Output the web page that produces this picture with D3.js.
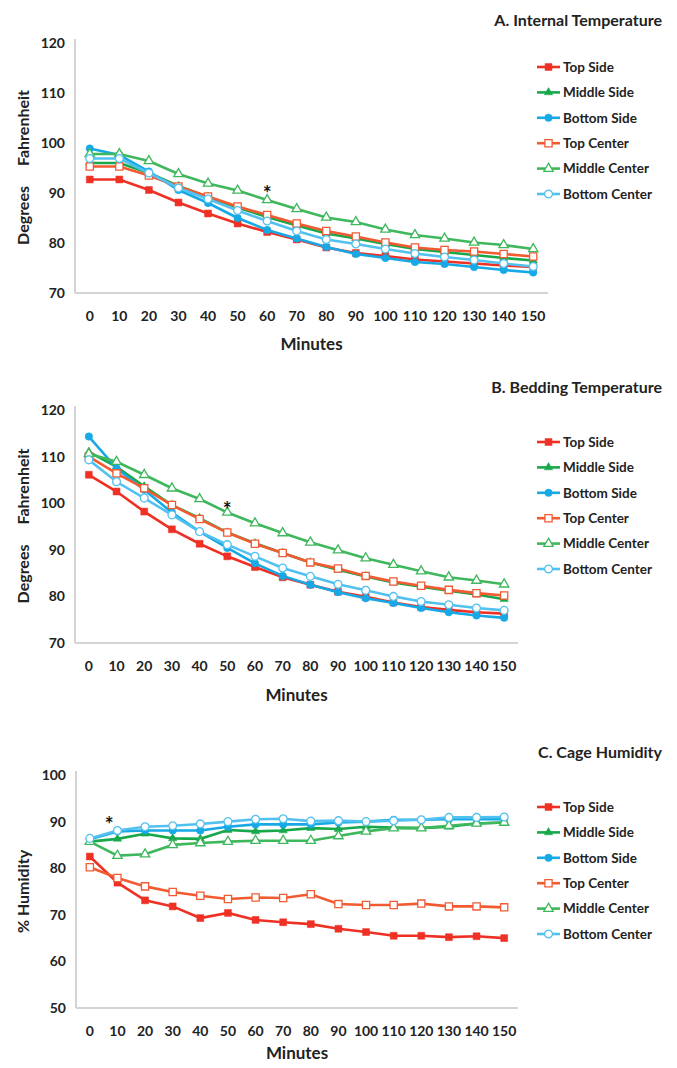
<!DOCTYPE html>
<html>
<head>
<meta charset="utf-8">
<script src="https://cdn.jsdelivr.net/npm/d3@7"></script>
<style>
  body { margin: 0; background: #fff; }
  svg { display: block; font-family: Lato, 'Open Sans', sans-serif; font-weight: bold; }
</style>
</head>
<body>
<main></main>
<script>
// minutes on the x axis
const minutes = [0, 10, 20, 30, 40, 50, 60, 70, 80, 90, 100, 110, 120, 130, 140, 150];
const seriesNames = ['Top Side', 'Middle Side', 'Bottom Side', 'Top Center', 'Middle Center', 'Bottom Center'];

// A. Internal temperature (F)
const internalTopSide = [92.7, 92.7, 90.6, 88.1, 85.9, 83.9, 82.2, 80.7, 79.1, 78.0, 77.4, 76.7, 76.3, 75.9, 75.5, 75.2];
const internalMiddleSide = [96.0, 96.0, 94.0, 91.4, 89.2, 87.1, 85.2, 83.5, 81.9, 80.9, 79.8, 78.8, 78.2, 77.6, 77.0, 76.5];
const internalBottomSide = [98.9, 97.6, 94.3, 90.6, 88.0, 85.0, 82.6, 80.9, 79.2, 77.8, 77.0, 76.2, 75.8, 75.2, 74.6, 74.1];
const internalTopCenter = [95.3, 95.3, 93.5, 91.3, 89.3, 87.3, 85.6, 83.9, 82.4, 81.3, 80.1, 79.1, 78.6, 78.3, 77.8, 77.3];
const internalMiddleCenter = [97.8, 97.8, 96.4, 93.8, 91.9, 90.5, 88.6, 86.8, 85.1, 84.2, 82.7, 81.6, 80.9, 80.1, 79.6, 78.8];
const internalBottomCenter = [96.9, 96.9, 94.0, 91.0, 88.8, 86.5, 84.4, 82.4, 80.7, 79.8, 78.8, 77.9, 77.2, 76.6, 75.9, 75.3];

// B. Bedding temperature (F)
const beddingTopSide = [106.1, 102.5, 98.2, 94.4, 91.3, 88.6, 86.3, 84.1, 82.5, 81.0, 79.9, 78.7, 77.7, 77.1, 76.6, 76.3];
const beddingMiddleSide = [111.0, 107.8, 103.6, 99.6, 96.8, 93.7, 91.4, 89.3, 87.3, 85.7, 84.3, 83.0, 82.1, 81.2, 80.4, 79.4];
const beddingBottomSide = [114.3, 107.5, 102.9, 98.0, 93.9, 90.4, 87.1, 84.4, 82.5, 80.9, 79.6, 78.6, 77.5, 76.6, 75.9, 75.4];
const beddingTopCenter = [110.0, 106.4, 103.2, 99.6, 96.6, 93.7, 91.3, 89.3, 87.3, 86.0, 84.4, 83.2, 82.3, 81.4, 80.7, 80.2];
const beddingMiddleCenter = [110.6, 108.9, 106.1, 103.2, 100.9, 98.0, 95.7, 93.6, 91.6, 89.9, 88.2, 86.8, 85.4, 84.1, 83.4, 82.6];
const beddingBottomCenter = [109.3, 104.6, 101.1, 97.5, 93.9, 91.1, 88.6, 86.1, 84.3, 82.6, 81.3, 80.0, 78.9, 78.2, 77.5, 77.0];

// C. Cage humidity (%)
const humidityTopSide = [82.5, 76.9, 73.1, 71.8, 69.3, 70.4, 68.9, 68.4, 68.0, 67.0, 66.3, 65.5, 65.5, 65.2, 65.4, 65.0];
const humidityMiddleSide = [85.7, 86.3, 87.4, 86.4, 86.3, 88.2, 87.9, 88.1, 88.6, 88.4, 88.9, 88.7, 88.6, 88.9, 89.6, 89.8];
const humidityBottomSide = [86.2, 87.9, 88.1, 88.1, 88.1, 88.9, 89.4, 89.4, 89.4, 89.8, 90.0, 90.4, 90.4, 90.5, 90.5, 90.5];
const humidityTopCenter = [80.2, 77.9, 76.1, 74.9, 74.1, 73.4, 73.7, 73.6, 74.4, 72.3, 72.1, 72.1, 72.4, 71.8, 71.8, 71.6];
const humidityMiddleCenter = [85.7, 82.7, 83.0, 85.0, 85.4, 85.7, 85.9, 85.9, 85.9, 86.9, 87.9, 88.6, 88.6, 89.1, 89.6, 89.8];
const humidityBottomCenter = [86.4, 88.1, 88.9, 89.1, 89.5, 90.0, 90.5, 90.6, 90.1, 90.2, 90.0, 90.2, 90.4, 90.9, 90.9, 91.0];

// y tick labels
const tempTicks = [70, 80, 90, 100, 110, 120];
const humidityTicks = [50, 60, 70, 80, 90, 100];

// asterisks: [minute position, value]
const internalStar = [60, 91.8];
const beddingStar = [50, 100.7];
const humidityStar = [7, 91.4];

// marker style per series
const styles = [
  { color: '#ee3124', symbol: d3.symbolSquare, size: 48, hollow: false },
  { color: '#17a84b', symbol: d3.symbolTriangle, size: 30, hollow: false },
  { color: '#16a9e6', symbol: d3.symbolCircle, size: 44, hollow: false },
  { color: '#f25a32', symbol: d3.symbolSquare, size: 52, hollow: true },
  { color: '#3fb75c', symbol: d3.symbolTriangle, size: 38, hollow: true },
  { color: '#52c1ef', symbol: d3.symbolCircle, size: 48, hollow: true }
];

const svg = d3
  .select('main')
  .append('svg')
  .attr('width', 677)
  .attr('height', 1068);

function drawPanel(p) {
  const x = d3.scalePoint().domain(minutes).range([p.left, p.right]).padding(0.5);
  const xLin = d3.scaleLinear().domain([0, 150]).range([x(0), x(150)]);
  const y = d3.scaleLinear().domain(d3.extent(p.ticks)).range([p.bottom, p.top]);

  const g = svg.append('g');

  // axis lines
  g.append('line')
    .attr('x1', p.left).attr('x2', p.left)
    .attr('y1', p.top - 4).attr('y2', y(p.ticks[0]))
    .attr('stroke', '#d4d4d4').attr('stroke-width', 2);
  g.append('line')
    .attr('x1', p.left).attr('x2', p.right)
    .attr('y1', y(p.ticks[0])).attr('y2', y(p.ticks[0]))
    .attr('stroke', '#d4d4d4').attr('stroke-width', 2);

  // y tick labels
  g.selectAll('.ytick')
    .data(p.ticks)
    .enter()
    .append('text')
    .attr('x', p.left - 10)
    .attr('y', d => y(d))
    .attr('dy', '0.35em')
    .attr('text-anchor', 'end')
    .attr('font-size', 14)
    .attr('fill', '#222')
    .text(d => d);

  // x tick labels
  g.selectAll('.xtick')
    .data(minutes)
    .enter()
    .append('text')
    .attr('x', d => x(d))
    .attr('y', y(p.ticks[0]) + 23)
    .attr('dy', '0.35em')
    .attr('text-anchor', 'middle')
    .attr('font-size', 14)
    .attr('fill', '#222')
    .text(d => d);

  const line = d3.line()
    .x((d, i) => x(minutes[i]))
    .y(d => y(d));

  p.series.forEach((values, k) => {
    const s = styles[k];
    g.append('path')
      .datum(values)
      .attr('fill', 'none')
      .attr('stroke', s.color)
      .attr('stroke-width', 2.6)
      .attr('d', line);
    g.selectAll('.m' + k)
      .data(values)
      .enter()
      .append('path')
      .attr('transform', (d, i) => `translate(${x(minutes[i])},${y(d)})`)
      .attr('d', d3.symbol().type(s.symbol).size(s.size))
      .attr('fill', s.hollow ? '#fff' : s.color)
      .attr('stroke', s.color)
      .attr('stroke-width', s.hollow ? 1.3 : 0.5);
  });

  // asterisk
  g.append('text')
    .attr('x', xLin(p.star[0]))
    .attr('y', y(p.star[1]))
    .attr('dy', '0.8em')
    .attr('text-anchor', 'middle')
    .attr('font-size', 21)
    .attr('fill', '#111')
    .text('*');

  // legend
  const legend = g.selectAll('.legend')
    .data(seriesNames)
    .enter()
    .append('g')
    .attr('transform', (d, i) => `translate(537, ${p.legendTop + i * 25.4})`);
  legend.append('line')
    .attr('x1', 0).attr('x2', 23)
    .attr('stroke', (d, i) => styles[i].color)
    .attr('stroke-width', 2.6);
  legend.append('path')
    .attr('transform', 'translate(11.5,0)')
    .attr('d', (d, i) => d3.symbol().type(styles[i].symbol).size(styles[i].size)())
    .attr('fill', (d, i) => styles[i].hollow ? '#fff' : styles[i].color)
    .attr('stroke', (d, i) => styles[i].color)
    .attr('stroke-width', (d, i) => styles[i].hollow ? 1.3 : 0.5);
  legend.append('text')
    .attr('x', 26)
    .attr('dy', '0.35em')
    .attr('font-size', 13.5)
    .attr('fill', '#222')
    .text(d => d);

  // title
  g.append('text')
    .attr('x', 662)
    .attr('y', p.top - 17)
    .attr('text-anchor', 'end')
    .attr('font-size', 16)
    .attr('fill', '#222')
    .text(p.title);

  // x axis title
  g.append('text')
    .attr('x', (p.left + p.right) / 2)
    .attr('y', y(p.ticks[0]) + p.minutesGap)
    .attr('dy', '0.35em')
    .attr('text-anchor', 'middle')
    .attr('font-size', 17)
    .attr('fill', '#222')
    .text('Minutes');

  // y axis title
  const mid = (p.top + y(p.ticks[0])) / 2;
  if (p.yLabel.length == 2) {
    g.append('text')
      .attr('transform', 'rotate(-90)')
      .attr('x', -(mid + 18))
      .attr('y', 23)
      .attr('dy', '0.35em')
      .attr('text-anchor', 'end')
      .attr('font-size', 16)
      .attr('fill', '#222')
      .text(p.yLabel[0]);
    g.append('text')
      .attr('transform', 'rotate(-90)')
      .attr('x', -(mid - 2))
      .attr('y', 23)
      .attr('dy', '0.35em')
      .attr('text-anchor', 'start')
      .attr('font-size', 16)
      .attr('fill', '#222')
      .text(p.yLabel[1]);
  } else {
    g.append('text')
      .attr('transform', 'rotate(-90)')
      .attr('x', -mid)
      .attr('y', 23)
      .attr('dy', '0.35em')
      .attr('text-anchor', 'middle')
      .attr('font-size', 16)
      .attr('fill', '#222')
      .text(p.yLabel[0]);
  }
}

drawPanel({
  title: 'A. Internal Temperature',
  yLabel: ['Degrees', 'Fahrenheit'],
  ticks: tempTicks,
  left: 75, right: 548, top: 43, bottom: 293, legendTop: 67, minutesGap: 51,
  star: internalStar,
  series: [internalTopSide, internalMiddleSide, internalBottomSide, internalTopCenter, internalMiddleCenter, internalBottomCenter]
});

drawPanel({
  title: 'B. Bedding Temperature',
  yLabel: ['Degrees', 'Fahrenheit'],
  ticks: tempTicks,
  left: 75, right: 518, top: 410, bottom: 643, legendTop: 442, minutesGap: 52,
  star: beddingStar,
  series: [beddingTopSide, beddingMiddleSide, beddingBottomSide, beddingTopCenter, beddingMiddleCenter, beddingBottomCenter]
});

drawPanel({
  title: 'C. Cage Humidity',
  yLabel: ['% Humidity'],
  ticks: humidityTicks,
  left: 76, right: 518, top: 775, bottom: 1008, legendTop: 807, minutesGap: 45,
  star: humidityStar,
  series: [humidityTopSide, humidityMiddleSide, humidityBottomSide, humidityTopCenter, humidityMiddleCenter, humidityBottomCenter]
});
</script>
</body>
</html>
